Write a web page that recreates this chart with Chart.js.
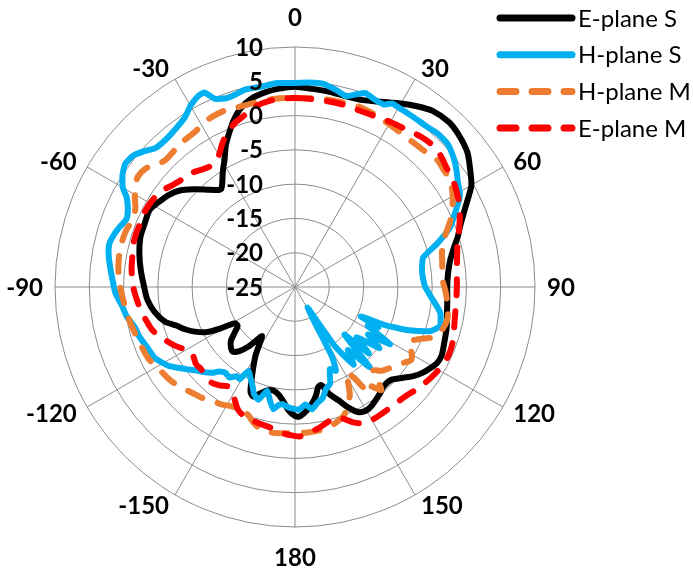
<!DOCTYPE html>
<html>
<head>
<meta charset="utf-8">
<title>Radiation patterns</title>
<script src="https://cdn.jsdelivr.net/npm/chart.js@4/dist/chart.umd.min.js"></script>
<style>
  html, body { margin: 0; padding: 0; background: #ffffff; }
  #wrap { width: 693px; height: 571px; }
</style>
</head>
<body>
<div id="wrap"><canvas id="pattern" width="693" height="571"></canvas></div>
<script>
// Angle axis labels (degrees) and radial gain range (dB)
const angleTicks = [0, 30, 60, 90, 120, 150, 180, -150, -120, -90, -60, -30];
const gainMin = -25;
const gainMax = 10;
const gainStep = 5;

// E-plane, simulated (dB vs. angle in degrees)
const ePlaneSAngles = [0, 5, 10, 15, 20, 25, 30, 34, 38, 43, 47, 52, 56, 60, 63, 66, 70, 73, 76, 80, 85, 90, 95, 100, 105, 110, 115, 118, 121, 124, 127, 130, 134, 138, 141, 144, 147, 150, 153, 156, 159, 162, 165, 167, 169, 172, 175, 178, 180,
  -177, -174, -171, -168, -165, -162, -159, -157, -155, -153, -150, -148, -146, -144, -142, -139, -136, -133, -130, -127, -124, -121, -119, -117, -114, -111, -108, -105, -100, -95, -90, -84, -78, -72, -67, -62, -58, -54, -50, -46, -42, -39, -37, -35, -33, -31, -29, -26, -23, -20, -17, -13, -9, -5];
const ePlaneSGain = [4.2, 4.0, 3.9, 3.8, 4.0, 4.8, 5.9, 6.8, 7.6, 7.9, 7.6, 6.9, 5.8, 4.7, 3.3, 2.0, 0.6, -0.2, -1.1, -2.0, -2.6, -2.8, -2.7, -2.5, -2.1, -1.8, -1.4, -1.5, -2.0, -2.6, -3.4, -4.4, -5.5, -5.6, -5.2, -4.8, -4.4, -4.2, -4.5, -5.7, -7.3, -8.5, -10.2, -10.0, -8.9, -7.7, -6.8, -6.1, -6.2,
  -7.0, -8.3, -9.2, -9.6, -9.4, -8.7, -7.9, -8.4, -10.0, -11.5, -13.5, -15.3, -16.4, -15.3, -14.0, -12.6, -11.9, -12.2, -12.8, -14.0, -14.9, -14.7, -12.5, -10.5, -9.0, -7.8, -6.8, -5.4, -4.2, -3.4, -3.0, -2.4, -1.8, -1.3, -1.2, -1.0, -1.6, -2.2, -3.1, -4.5, -5.9, -6.8, -7.1, -6.5, -5.6, -4.7, -3.8, -2.0, -0.5, 1.0, 2.2, 3.2, 3.7, 4.0];

// H-plane, simulated
const hPlaneSAngles = [0, 4, 8, 12, 15, 18, 20, 23, 26, 28, 31, 35, 39, 43, 47, 51, 54, 57, 61, 65, 69, 73, 77, 82, 86, 90, 95, 100, 105, 108, 111, 113, 114, 116, 118, 121, 123, 126, 129, 132, 134, 137, 140, 143, 146, 149, 152, 154, 157, 160, 163, 166, 169, 172, 175, 178, 180,
  -177, -174, -172, -170, -168, -165, -162, -159, -157, -154, -151, -149, -147, -144, -141, -138, -136, -133, -130, -127, -122, -117, -112, -108, -104, -100, -96, -92, -88, -84, -80, -77, -74, -71, -68, -65, -62, -60, -57, -54, -51, -48, -45, -41, -37, -33, -30, -27, -25, -23, -20, -17, -14, -10, -5];
const hPlaneSGain = [4.75, 4.9, 4.9, 4.3, 3.8, 4.6, 5.1, 4.7, 4.6, 5.3, 5.2, 5.2, 5.25, 5.55, 5.5, 4.8, 4.1, 3.3, 2.5, 0.8, -0.8, -3.3, -5.8, -6.3, -6.3, -6.0, -4.9, -3.5, -3.1, -4.2, -7.5, -11.0, -14.5, -11.5, -13.0, -8.8, -12.3, -9.8, -13.4, -10.5, -15.0, -9.0, -13.0, -10.8, -14.5, -21.5, -13.5, -11.4, -12.0, -10.0, -9.5, -8.3, -7.8, -7.0, -7.8, -7.1, -7.2,
  -7.4, -7.8, -7.6, -6.9, -7.8, -9.3, -7.7, -8.3, -9.2, -10.2, -11.0, -9.3, -9.5, -8.7, -8.9, -8.4, -7.6, -6.8, -6.1, -5.1, -3.3, -2.1, -1.7, -1.2, -0.9, -0.1, 0.4, 1.2, 1.6, 2.1, 2.6, 2.8, 2.5, 2.0, 1.5, 1.9, 2.8, 4.0, 5.0, 5.6, 5.4, 4.6, 3.7, 3.6, 3.9, 4.5, 5.5, 6.2, 6.3, 4.8, 4.3, 4.4, 4.7, 4.6, 4.85];

// H-plane, measured
const hPlaneMAngles = [0, 8, 15, 20, 25, 28, 33, 38, 43, 48, 52, 55, 58, 61, 64, 67, 70, 73, 77, 80, 84, 88, 92, 95, 98, 101, 104, 107, 110, 113, 116, 119, 122, 125, 128, 131, 134, 137, 140, 143, 145, 147, 149, 151, 153, 156, 159, 162, 166, 170, 175, 180,
  -175, -171, -167, -163, -160, -156, -152, -148, -144, -140, -136, -131, -127, -123, -120, -116, -111, -106, -100, -94, -90, -84, -78, -72, -68, -64, -61, -58, -55, -51, -46, -41, -37, -33, -29, -26, -22, -18, -12, -6];
const hPlaneMGain = [2.6, 2.7, 2.8, 2.9, 2.7, 2.5, 2.3, 2.2, 2.35, 2.8, 2.6, 2.5, 2.0, 1.3, 0.5, -0.4, -1.5, -2.4, -3.0, -3.2, -3.4, -3.4, -3.0, -2.75, -2.5, -2.3, -2.4, -2.8, -3.6, -5.5, -6.6, -5.6, -5.0, -5.7, -6.4, -6.9, -7.4, -8.3, -5.4, -6.9, -6.3, -9.2, -10.5, -9.0, -7.4, -6.1, -5.0, -4.5, -4.0, -3.8, -3.7, -3.7,
  -3.6, -3.5, -3.6, -4.3, -5.1, -5.4, -5.3, -4.8, -4.5, -3.9, -3.5, -2.8, -2.3, -2.0, -1.7, -1.2, -1.0, -0.7, -0.25, 0.15, 0.5, 0.9, 1.1, 1.0, 0.7, 0.9, 1.7, 2.4, 3.0, 2.7, 1.5, 1.6, 1.8, 1.9, 2.4, 2.6, 2.7, 2.5, 2.5, 2.6];

// E-plane, measured
const ePlaneMAngles = [0, 5, 10, 15, 20, 25, 30, 35, 40, 44, 48, 52, 56, 60, 64, 68, 72, 76, 80, 85, 90, 95, 100, 105, 110, 114, 118, 122, 126, 130, 134, 138, 142, 146, 150, 154, 157, 160, 163, 166, 170, 174, 178,
  -178, -174, -170, -166, -162, -158, -155, -152, -149, -146, -143, -139, -135, -131, -128, -125, -122, -119, -116, -112, -107, -103, -99, -95, -91, -87, -83, -79, -75, -71, -67, -63, -58, -54, -50, -46, -42, -38, -34, -30, -27, -24, -20, -17, -13, -7, -3];
const ePlaneMGain = [2.55, 2.5, 2.5, 2.5, 2.4, 2.5, 2.8, 3.1, 3.6, 3.8, 3.6, 3.1, 2.8, 2.3, 1.7, 0.9, 0.1, -0.6, -1.0, -1.3, -1.4, -1.4, -1.3, -1.0, -0.6, -0.5, -0.7, -1.0, -1.4, -1.8, -2.3, -2.5, -2.6, -2.6, -2.6, -2.9, -3.6, -4.6, -5.1, -4.8, -4.2, -3.7, -3.2,
  -3.4, -3.7, -4.2, -4.4, -4.6, -4.8, -5.3, -6.3, -7.2, -7.5, -7.0, -6.5, -6.6, -6.8, -6.7, -7.0, -7.2, -6.4, -5.5, -4.5, -3.3, -2.8, -2.3, -1.9, -1.5, -1.2, -1.0, -0.85, -0.6, -0.55, -0.6, -0.5, -0.7, -1.1, -1.8, -2.3, -2.6, -3.2, -3.5, -2.8, -1.6, -0.5, 0.5, 1.0, 1.9, 2.45, 2.55];

// One category per degree, clockwise from the top
const degreeLabels = Array.from({ length: 360 }, (_, i) => String(i <= 180 ? i : i - 360));

function onDegreeGrid(angles, gains) {
  const out = new Array(360).fill(null);
  angles.forEach((a, k) => { out[((a % 360) + 360) % 360] = gains[k]; });
  return out;
}

const LABEL_FONT = '"Lato", "Open Sans", sans-serif';
const GRID_COLOR = '#8c8c8c';

// Bold angle labels outside the rim and gain labels left of the vertical axis
const axisText = {
  id: 'axisText',
  afterDatasetsDraw(chart) {
    const r = chart.scales.r;
    const ctx = chart.ctx;
    ctx.save();
    ctx.fillStyle = '#000000';
    ctx.font = 'bold 24px ' + LABEL_FONT;
    ctx.textAlign = 'right';
    ctx.textBaseline = 'alphabetic';
    r.ticks.forEach(t => {
      const y = r.yCenter - r.getDistanceFromCenterForValue(t.value);
      ctx.fillText(String(t.value), r.xCenter - 32, y + 8.5);
    });
    angleTicks.forEach(a => {
      const idx = ((a % 360) + 360) % 360;
      const p = r.getPointPosition(idx, r.drawingArea + 12);
      const s = Math.sin(idx * Math.PI / 180);
      const c = Math.cos(idx * Math.PI / 180);
      let x = p.x, y = p.y;
      if (Math.abs(s) < 0.01) {
        ctx.textAlign = 'center';
        y += c > 0 ? -18 : 18;
      } else {
        ctx.textAlign = s > 0 ? 'left' : 'right';
      }
      ctx.fillText(String(a), x, y + 8.5);
    });
    ctx.restore();
  }
};

// Legend in the upper right corner, drawn from each dataset's own line style
const sideLegend = {
  id: 'sideLegend',
  afterDraw(chart) {
    const ctx = chart.ctx;
    const x0 = 500, x1 = 572, textX = 578, top = 18, rowGap = 36.7;
    ctx.save();
    ctx.font = '24px ' + LABEL_FONT;
    ctx.textAlign = 'left';
    ctx.textBaseline = 'alphabetic';
    chart.data.datasets.forEach((ds, i) => {
      const y = top + i * rowGap;
      ctx.beginPath();
      ctx.strokeStyle = ds.borderColor;
      ctx.lineWidth = 7;
      ctx.lineCap = 'round';
      ctx.setLineDash(ds.borderDash || []);
      ctx.moveTo(x0, y);
      ctx.lineTo(x1, y);
      ctx.stroke();
      ctx.setLineDash([]);
      ctx.fillStyle = '#000000';
      ctx.fillText(ds.label, textX, y + 8.5);
    });
    ctx.restore();
  }
};

const DASH = [16, 16];

new Chart(document.getElementById('pattern'), {
  type: 'radar',
  data: {
    labels: degreeLabels,
    datasets: [
      { label: 'E-plane S', data: onDegreeGrid(ePlaneSAngles, ePlaneSGain), borderColor: '#000000', borderWidth: 6, tension: 0.25, order: 4 },
      { label: 'H-plane S', data: onDegreeGrid(hPlaneSAngles, hPlaneSGain), borderColor: '#00B0F0', borderWidth: 6, tension: 0.15, order: 3 },
      { label: 'H-plane M', data: onDegreeGrid(hPlaneMAngles, hPlaneMGain), borderColor: '#ED7D31', borderWidth: 6, borderDash: DASH, tension: 0.3, order: 2 },
      { label: 'E-plane M', data: onDegreeGrid(ePlaneMAngles, ePlaneMGain), borderColor: '#FF0000', borderWidth: 6, borderDash: DASH, tension: 0.3, order: 1 }
    ].map(ds => Object.assign(ds, {
      spanGaps: true,
      fill: false,
      pointRadius: 0,
      pointHoverRadius: 0,
      borderCapStyle: 'round',
      borderJoinStyle: 'round',
      backgroundColor: 'transparent'
    }))
  },
  options: {
    responsive: false,
    animation: false,
    devicePixelRatio: 1,
    layout: { padding: { left: 55, right: 158, top: 47, bottom: 44 } },
    plugins: { legend: { display: false }, tooltip: { enabled: false } },
    events: [],
    scales: {
      r: {
        min: gainMin,
        max: gainMax,
        startAngle: 0,
        ticks: { display: false, stepSize: gainStep },
        grid: { circular: true, color: GRID_COLOR, lineWidth: 1 },
        angleLines: {
          display: true,
          color: GRID_COLOR,
          lineWidth: ctx => (ctx.index % 30 === 0 ? 1 : 0)
        },
        pointLabels: { display: false }
      }
    }
  },
  plugins: [axisText, sideLegend]
});
</script>
</body>
</html>
